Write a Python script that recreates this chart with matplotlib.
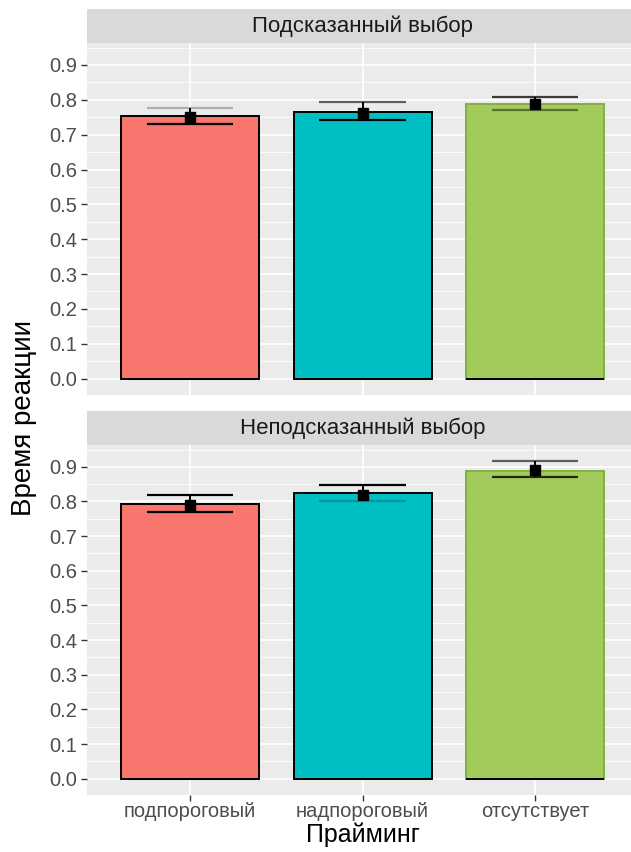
import numpy as np
import matplotlib
matplotlib.use("Agg")
import matplotlib.pyplot as plt
from matplotlib.ticker import MultipleLocator

plt.rcParams['font.family'] = ['Liberation Sans', 'DejaVu Sans']

# данные: среднее время реакции по типу прайминга
categories = ['подпороговый', 'надпороговый', 'отсутствует']
panels = ['Подсказанный выбор', 'Неподсказанный выбор']
bar_cued = [0.753, 0.765, 0.788]
bar_uncued = [0.793, 0.825, 0.888]
point_cued = [0.750, 0.763, 0.788]
point_uncued = [0.790, 0.820, 0.890]
lo_cued = [0.730, 0.742, 0.771]
hi_cued = [0.776, 0.794, 0.808]
lo_uncued = [0.770, 0.800, 0.871]
hi_uncued = [0.819, 0.848, 0.917]

fills = ['#F8766D', '#00BFC4', '#A3CB5B']
edges = ['black', 'black', '#86AE46']

W, H = 631, 852
fig = plt.figure(figsize=(W / 100, H / 100), dpi=100)


def frac(x0, y0, x1, y1):
    return [x0 / W, 1 - y1 / H, (x1 - x0) / W, (y1 - y0) / H]


def draw_panel(rect, strip_rect, title, bars, points, lo, hi, lo_alpha, hi_alpha):
    ax = fig.add_axes(rect)
    x = np.arange(1, len(categories) + 1)
    ax.set_facecolor('#EBEBEB')
    ax.set_xlim(0.4, 3.6)
    ax.set_ylim(-0.047, 0.963)
    ax.yaxis.set_major_locator(MultipleLocator(0.1))
    ax.yaxis.set_minor_locator(MultipleLocator(0.05))
    ax.grid(which='major', color='white', lw=1.2)
    ax.grid(which='minor', axis='y', color='white', lw=0.6)
    ax.set_axisbelow(True)
    for s in ax.spines.values():
        s.set_visible(False)
    ax.bar(x, bars, width=0.8, color=fills, edgecolor=edges, linewidth=1.4, zorder=2)
    for i in range(len(x)):
        ax.hlines(0, x[i] - 0.4, x[i] + 0.4, color='black', lw=1.4, zorder=3)
        ax.vlines(x[i], lo[i], hi[i], color='black', lw=1.4, zorder=4)
        ax.hlines(lo[i], x[i] - 0.25, x[i] + 0.25, color='black', lw=1.6,
                  alpha=lo_alpha[i], zorder=4)
        ax.hlines(hi[i], x[i] - 0.25, x[i] + 0.25, color='black', lw=1.6,
                  alpha=hi_alpha[i], zorder=4)
    ax.plot(x, points, 's', color='black', ms=7, zorder=5)
    ax.set_xticks(x)
    ax.set_yticks(np.arange(0, 1.0, 0.1))
    ax.set_yticklabels([f'{v:.1f}' for v in np.arange(0, 1.0, 0.1)])
    ax.tick_params(axis='both', which='major', length=4, width=1, color='#333333',
                   labelcolor='#4D4D4D', labelsize=14.5, pad=3)
    ax.tick_params(axis='y', which='minor', length=0)

    sax = fig.add_axes(strip_rect)
    sax.set_facecolor('#D9D9D9')
    sax.set_xticks([])
    sax.set_yticks([])
    for s in sax.spines.values():
        s.set_visible(False)
    sax.text(0.5, 0.5, title, ha='center', va='center', fontsize=16,
             color='#1A1A1A', transform=sax.transAxes)
    return ax


ax1 = draw_panel(frac(86.5, 43, 638.5, 395), frac(86.5, 9, 638.5, 43), panels[0],
                 bar_cued, point_cued, lo_cued, hi_cued,
                 [1, 1, 0.45], [0.25, 0.6, 0.75])
ax1.set_xticklabels([])
ax1.tick_params(axis='x', length=0)

ax2 = draw_panel(frac(86.5, 445, 638.5, 795), frac(86.5, 411, 638.5, 445), panels[1],
                 bar_uncued, point_uncued, lo_uncued, hi_uncued,
                 [1, 0.2, 0.8], [1, 1, 0.6])
ax2.set_xticklabels(categories)
ax2.tick_params(axis='x', length=4, color='#333333', pad=1)

fig.text(24 / W, 1 - 418 / H, 'Время реакции', rotation=90, ha='center', va='center',
         fontsize=20, color='black')
fig.text(362.5 / W, 1 - 835 / H, 'Прайминг', ha='center', va='center',
         fontsize=18, color='black')

fig.savefig('out.png', dpi=100)
